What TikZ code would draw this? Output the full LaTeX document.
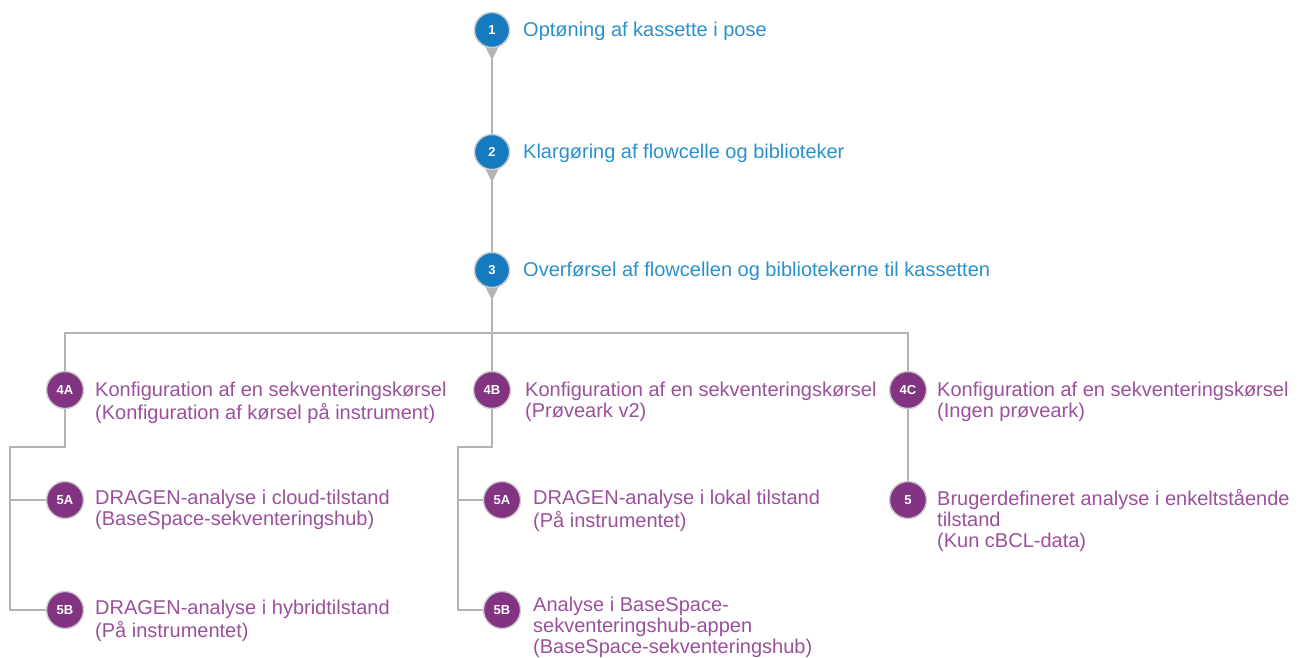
\documentclass[tikz,border=0pt]{standalone}
\usepackage{fontspec}
\setmainfont{Liberation Sans}
\usetikzlibrary{calc}
\definecolor{lineg}{RGB}{180,180,180}
\definecolor{bluec}{RGB}{22,122,190}
\definecolor{bluet}{RGB}{40,145,205}
\definecolor{purc}{RGB}{130,52,130}
\definecolor{purt}{RGB}{155,80,155}
\begin{document}
\begin{tikzpicture}[x=1pt,y=-1pt,
  conn/.style={draw=lineg,line width=1.8pt},
  bdot/.style={circle,fill=bluec,draw=black!20,line width=1.4pt,minimum size=35pt,inner sep=0,text=white,font=\fontsize{13}{13}\selectfont\bfseries},
  pdot/.style={circle,fill=purc,draw=black!20,line width=1.4pt,minimum size=37pt,inner sep=0,text=white,font=\fontsize{13}{13}\selectfont\bfseries},
  btxt/.style={anchor=north west,align=left,inner sep=0,text=bluet,font=\fontsize{20}{21}\selectfont},
  ptxt/.style={anchor=north west,align=left,inner sep=0,text=purt,font=\fontsize{20}{21}\selectfont},
  ptr/.style={fill=lineg}]
\useasboundingbox (0,0) rectangle (1300,658);
% circles
\node[bdot] (s1) at (492,30) {1};
\node[bdot] (s2) at (492,152) {2};
\node[bdot] (s3) at (492,270) {3};
\node[pdot] (a4) at (65,390) {4A};
\node[pdot] (b4) at (492,390) {4B};
\node[pdot] (c4) at (908,390) {4C};
\node[pdot] (a5a) at (65,500) {5A};
\node[pdot] (a5b) at (65,610) {5B};
\node[pdot] (b5a) at (502,500) {5A};
\node[pdot] (b5b) at (502,610) {5B};
\node[pdot] (c5) at (908,500) {5};
% junctions
\coordinate (j) at (492,333);
\coordinate (la) at (10,447);
\coordinate (lb) at (458,447);
% connectors
\draw[conn] (s1) -- (s2);
\draw[conn] (s2) -- (s3);
\draw[conn] (s3) -- (j);
\draw[conn] (a4) |- (j) -| (c4);
\draw[conn] (j) -- (b4);
\draw[conn] (a4) |- (la) |- (a5b);
\draw[conn] (la |- a5a) -- (a5a);
\draw[conn] (b4) |- (lb) |- (b5b);
\draw[conn] (lb |- b5a) -- (b5a);
\draw[conn] (c4) -- (c5);
% pointers
\foreach \n in {s1,s2,s3}{
  \fill[ptr] ($(\n.south)+(-7,-2)$) -- ($(\n.south)+(7,-2)$) -- ($(\n.south)+(0,12)$) -- cycle;
}
% redraw circles on top
\foreach \n/\l in {s1/1,s2/2,s3/3}{\node[bdot] at (\n) {\l};}
% texts
\node[btxt] (t1) at (523,22) {\strut Optøning af kassette i pose};
\node[btxt] (t2) at (523,144) {\strut Klargøring af flowcelle og biblioteker};
\node[btxt] (t3) at (523,262) {\strut Overførsel af flowcellen og bibliotekerne til kassetten};
\node[ptxt] (ta4) at (95,381.5) {\strut Konfiguration af en sekventeringskørsel\\(Konfiguration af kørsel på instrument)};
\node[ptxt] (tb4) at (525,381.5) {\strut Konfiguration af en sekventeringskørsel\\(Prøveark v2)};
\node[ptxt] (tc4) at (937,381.5) {\strut Konfiguration af en sekventeringskørsel\\(Ingen prøveark)};
\node[ptxt] (ta5a) at (95,489.5) {\strut DRAGEN-analyse i cloud-tilstand\\(BaseSpace-sekventeringshub)};
\node[ptxt] (ta5b) at (95,599.5) {\strut DRAGEN-analyse i hybridtilstand\\(På instrumentet)};
\node[ptxt] (tb5a) at (533,489.5) {\strut DRAGEN-analyse i lokal tilstand\\(På instrumentet)};
\node[ptxt] (tb5b) at (533,596.5) {\strut Analyse i BaseSpace-\\sekventeringshub-appen\\(BaseSpace-sekventeringshub)};
\node[ptxt] (tc5) at (937,489.5) {\strut Brugerdefineret analyse i enkeltstående\\tilstand\\(Kun cBCL-data)};
\end{tikzpicture}
\end{document}
